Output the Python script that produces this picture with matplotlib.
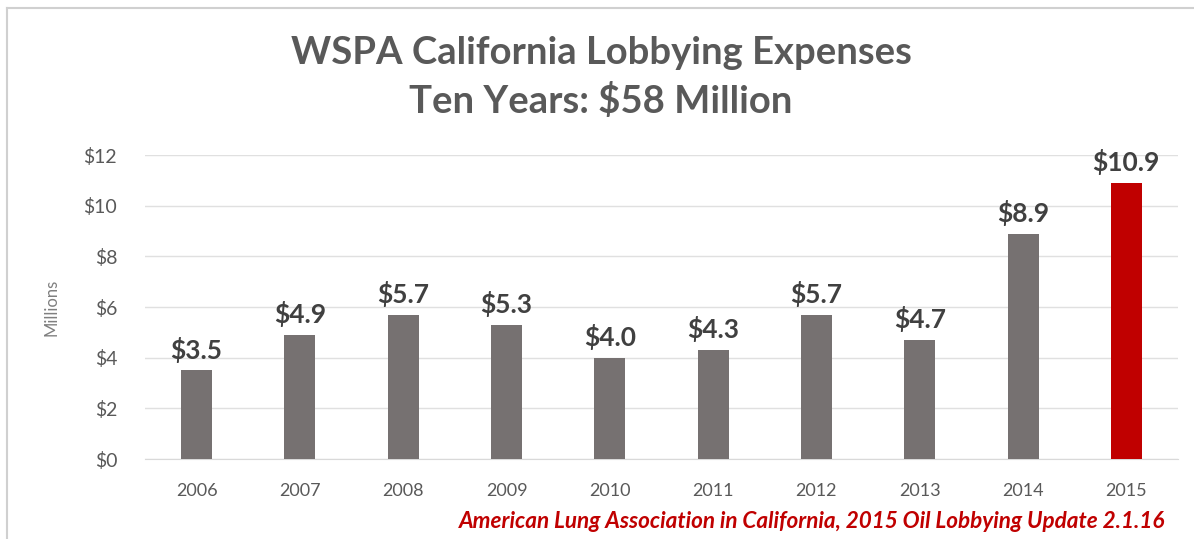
import matplotlib.pyplot as plt
from matplotlib.lines import Line2D

years = ['2006', '2007', '2008', '2009', '2010', '2011', '2012', '2013', '2014', '2015']
expenses = [3.5, 4.9, 5.7, 5.3, 4.0, 4.3, 5.7, 4.7, 8.9, 10.9]
y_ticks = [0, 2, 4, 6, 8, 10, 12]

plt.rcParams['font.family'] = ['Lato', 'DejaVu Sans']

fig = plt.figure(figsize=(11.94, 5.39), dpi=100)
ax = fig.add_axes([0.1214, 0.1484, 0.8652, 0.564])

colors = ['#767171'] * (len(years) - 1) + ['#c00000']
x = range(len(years))
ax.bar(x, expenses, width=0.30, color=colors, zorder=3)

for i, v in enumerate(expenses):
    ax.text(i, v + 0.3, f'${v:.1f}', ha='center', va='bottom',
            fontsize=19, fontweight='bold', color='#404040', clip_on=False)

ax.set_xlim(-0.5, len(years) - 0.5)
ax.set_ylim(0, 12)
ax.set_yticks(y_ticks)
ax.set_yticklabels([f'${t}' for t in y_ticks])
ax.set_xticks(list(x))
ax.set_xticklabels(years)
ax.tick_params(length=0, labelcolor='#595959')
ax.tick_params(axis='x', pad=17, labelsize=13)
ax.tick_params(axis='y', pad=20, labelsize=14)
ax.grid(axis='y', color='#e0e0e0', linewidth=1, zorder=0)
for s in ['top', 'right', 'left']:
    ax.spines[s].set_visible(False)
ax.spines['bottom'].set_color('#d9d9d9')
ax.set_ylabel('Millions', fontsize=12, color='#7f7f7f')
ax.yaxis.set_label_coords(-0.083, 0.5)

fig.text(0.5035, 0.902, 'WSPA California Lobbying Expenses', ha='center', va='center',
         fontsize=27.5, fontweight='bold', color='#595959')
fig.text(0.5035, 0.813, 'Ten Years: $58 Million', ha='center', va='center',
         fontsize=27.5, fontweight='bold', color='#595959')

fig.text(0.976, 0.033, 'American Lung Association in California, 2015 Oil Lobbying Update 2.1.16',
         ha='right', va='center', fontsize=16.2, fontweight='bold', style='italic', color='#c00000')

# light frame around the chart
fig.add_artist(Line2D([0.006, 0.006], [0, 0.985], color='#d0d0d0', linewidth=1.5))
fig.add_artist(Line2D([0.006, 1.0], [0.985, 0.985], color='#d0d0d0', linewidth=1.5))

fig.savefig('out.png', dpi=100)
